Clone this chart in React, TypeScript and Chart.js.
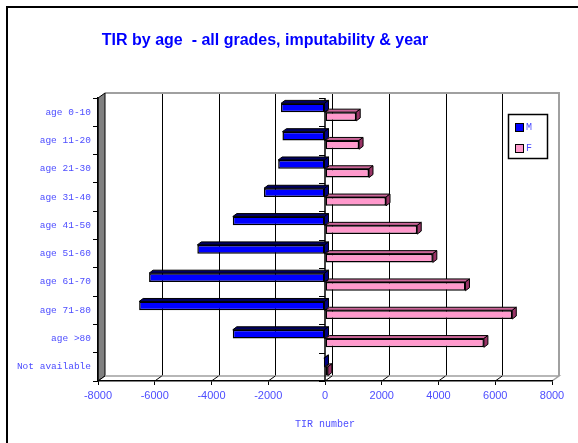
import React, { useEffect, useRef } from 'react';
import { Chart, registerables } from 'chart.js';

Chart.register(...registerables);

const categories = [
  'age 0-10',
  'age 11-20',
  'age 21-30',
  'age 31-40',
  'age 41-50',
  'age 51-60',
  'age 61-70',
  'age 71-80',
  'age >80',
  'Not available',
];
const maleValues = [-1550, -1500, -1650, -2150, -3250, -4500, -6200, -6550, -3250, -40];
const femaleValues = [1100, 1200, 1550, 2150, 3250, 3800, 4950, 6600, 5600, 100];
const seriesLabels = ['M', 'F'];
const xMin = -8000;
const xMax = 8000;
const xStep = 2000;
const chartTitle = 'TIR by age  - all grades, imputability & year';
const xAxisTitle = 'TIR number';

const TEXT_BLUE = '#4d4dff';
const DX = 7;
const DY = -5;
const BDX = 4;
const BDY = -3;

const faceColors = [
  { top: '#000060', side: '#000080' },
  { top: '#cc6699', side: '#993366' },
];

export default function App() {
  const ref = useRef<HTMLCanvasElement>(null);

  useEffect(() => {
    const canvas = ref.current;
    if (!canvas) return;

    const scenePlugin = {
      id: 'scene3d',
      beforeDraw(chart: any) {
        const { ctx, chartArea: a, scales } = chart;
        const xs = scales.x;
        ctx.save();
        ctx.fillStyle = '#ffffff';
        ctx.fillRect(0, 0, chart.width, chart.height);
        // outer frame
        ctx.strokeStyle = '#000';
        ctx.lineWidth = 2;
        ctx.beginPath();
        ctx.moveTo(7, chart.height + 5);
        ctx.lineTo(7, 7);
        ctx.lineTo(chart.width + 5, 7);
        ctx.stroke();

        // title
        ctx.fillStyle = '#0000ff';
        ctx.font = 'bold 16px "Liberation Sans", Arial, sans-serif';
        ctx.textAlign = 'center';
        ctx.textBaseline = 'middle';
        ctx.fillText(chartTitle, 265, 41);

        // back wall
        ctx.fillStyle = '#ffffff';
        ctx.fillRect(a.left + DX, a.top + DY, a.right - a.left, a.bottom - a.top);
        // gridlines on back wall
        ctx.strokeStyle = '#000';
        ctx.lineWidth = 1;
        const ticks = xs.ticks;
        ticks.forEach((t: any, i: number) => {
          if (i === 0 || i === ticks.length - 1) return;
          const px = Math.round(xs.getPixelForValue(t.value) + DX) + 0.5;
          ctx.beginPath();
          ctx.moveTo(px, a.top + DY);
          ctx.lineTo(px, a.bottom + DY);
          ctx.stroke();
        });
        // back wall border (top, right)
        ctx.strokeStyle = '#a0a0a0';
        ctx.lineWidth = 2;
        ctx.beginPath();
        ctx.moveTo(a.left + DX, a.top + DY);
        ctx.lineTo(a.right + DX, a.top + DY);
        ctx.lineTo(a.right + DX, a.bottom + DY);
        ctx.stroke();

        // left wall
        ctx.fillStyle = '#808080';
        ctx.beginPath();
        ctx.moveTo(a.left, a.top);
        ctx.lineTo(a.left + DX, a.top + DY);
        ctx.lineTo(a.left + DX, a.bottom + DY);
        ctx.lineTo(a.left, a.bottom);
        ctx.closePath();
        ctx.fill();
        ctx.strokeStyle = '#000';
        ctx.lineWidth = 1;
        ctx.stroke();

        // floor
        ctx.fillStyle = '#ffffff';
        ctx.beginPath();
        ctx.moveTo(a.left, a.bottom);
        ctx.lineTo(a.left + DX, a.bottom + DY);
        ctx.lineTo(a.right + DX, a.bottom + DY);
        ctx.lineTo(a.right, a.bottom);
        ctx.closePath();
        ctx.fill();
        ctx.strokeStyle = '#a0a0a0';
        ctx.lineWidth = 1.5;
        ctx.beginPath();
        ctx.moveTo(a.left + DX, a.bottom + DY);
        ctx.lineTo(a.right + DX, a.bottom + DY);
        ctx.lineTo(a.right, a.bottom);
        ctx.stroke();
        ctx.strokeStyle = '#000';
        ctx.lineWidth = 1;
        ticks.forEach((t: any, i: number) => {
          if (i === ticks.length - 1) return;
          const px = xs.getPixelForValue(t.value);
          ctx.beginPath();
          ctx.moveTo(px, a.bottom);
          ctx.lineTo(px + DX, a.bottom + DY);
          ctx.stroke();
        });
        ctx.restore();
      },
      beforeDatasetsDraw(chart: any) {
        const { ctx, chartArea: a, scales } = chart;
        const xs = scales.x;
        const n = chart.data.labels.length;
        ctx.save();
        // zero line (category axis crossing) with tick marks
        const zx = xs.getPixelForValue(0);
        ctx.strokeStyle = '#000';
        ctx.lineWidth = 1.5;
        ctx.beginPath();
        ctx.moveTo(zx, a.top);
        ctx.lineTo(zx, a.bottom);
        ctx.stroke();
        const band = (a.bottom - a.top) / n;
        ctx.lineWidth = 1;
        for (let i = 0; i <= n; i++) {
          const yy = Math.round(a.top + i * band) + 0.5;
          ctx.beginPath();
          ctx.moveTo(zx - 6, yy);
          ctx.lineTo(zx, yy);
          ctx.stroke();
        }
        // 3D faces of bars
        chart.data.datasets.forEach((ds: any, di: number) => {
          const meta = chart.getDatasetMeta(di);
          const fc = faceColors[di];
          meta.data.forEach((el: any) => {
            const p = el.getProps(['x', 'y', 'base', 'height'], true);
            const left = Math.min(p.x, p.base);
            const right = Math.max(p.x, p.base);
            const top = p.y - p.height / 2;
            const bottom = p.y + p.height / 2;
            ctx.lineWidth = 1;
            ctx.strokeStyle = '#000';
            ctx.fillStyle = fc.top;
            ctx.beginPath();
            ctx.moveTo(left, top);
            ctx.lineTo(left + BDX, top + BDY);
            ctx.lineTo(right + BDX, top + BDY);
            ctx.lineTo(right, top);
            ctx.closePath();
            ctx.fill();
            ctx.stroke();
            ctx.fillStyle = fc.side;
            ctx.beginPath();
            ctx.moveTo(right, top);
            ctx.lineTo(right + BDX, top + BDY);
            ctx.lineTo(right + BDX, bottom + BDY);
            ctx.lineTo(right, bottom);
            ctx.closePath();
            ctx.fill();
            ctx.stroke();
          });
        });
        ctx.restore();
      },
      afterDraw(chart: any) {
        const { ctx } = chart;
        ctx.save();
        // legend box
        ctx.fillStyle = '#ffffff';
        ctx.fillRect(508, 114, 39, 44);
        ctx.strokeStyle = '#000';
        ctx.lineWidth = 1.5;
        ctx.strokeRect(508.5, 114.5, 39, 44);
        ctx.font = '10px "Liberation Mono", "Courier New", monospace';
        ctx.textAlign = 'left';
        ctx.textBaseline = 'middle';
        chart.data.datasets.forEach((ds: any, i: number) => {
          const yy = 123 + i * 21;
          ctx.fillStyle = ds.backgroundColor;
          ctx.fillRect(515, yy, 8, 8);
          ctx.lineWidth = 1;
          ctx.strokeStyle = '#000';
          ctx.strokeRect(515.5, yy + 0.5, 8, 8);
          ctx.fillStyle = TEXT_BLUE;
          ctx.fillText(ds.label, 526, yy + 4);
        });
        ctx.restore();
      },
    };

    const chart = new Chart(canvas, {
      type: 'bar',
      data: {
        labels: categories,
        datasets: [
          {
            label: seriesLabels[0],
            data: maleValues,
            backgroundColor: '#0000ff',
            borderColor: '#000000',
            borderWidth: 1.5,
            borderSkipped: false,
            categoryPercentage: 0.62,
            barPercentage: 1,
          },
          {
            label: seriesLabels[1],
            data: femaleValues,
            backgroundColor: '#ff99cc',
            borderColor: '#000000',
            borderWidth: 1.5,
            borderSkipped: false,
            categoryPercentage: 0.62,
            barPercentage: 1,
          },
        ],
      },
      options: {
        indexAxis: 'y',
        responsive: false,
        maintainAspectRatio: false,
        animation: false,
        devicePixelRatio: 1,
        layout: { padding: { top: 98, right: 26, bottom: 0, left: 0 } },
        plugins: {
          legend: { display: false },
          title: { display: false },
          tooltip: { enabled: false },
        },
        scales: {
          x: {
            type: 'linear',
            min: xMin,
            max: xMax,
            ticks: {
              stepSize: xStep,
              color: TEXT_BLUE,
              font: { family: '"Liberation Sans", Arial, sans-serif', size: 11 },
              padding: 4,
              maxRotation: 0,
              callback: (v: any) => String(v),
            },
            grid: {
              drawOnChartArea: false,
              tickLength: 4,
              color: '#000',
              lineWidth: 1,
            },
            border: { display: true, color: '#000', width: 1.5 },
            title: {
              display: true,
              text: xAxisTitle,
              color: TEXT_BLUE,
              font: { family: '"Liberation Mono", "Courier New", monospace', size: 10 },
              padding: { top: 0, bottom: 13 },
            },
            afterFit(s: any) {
              s.height = 62;
            },
          },
          y: {
            type: 'category',
            offset: true,
            grid: {
              offset: true,
              drawOnChartArea: false,
              tickLength: 5,
              color: '#000',
              lineWidth: 1,
            },
            border: { display: true, color: '#000', width: 1.5 },
            ticks: {
              color: TEXT_BLUE,
              font: { family: '"Liberation Mono", "Courier New", monospace', size: 9.5 },
              padding: 2,
              autoSkip: false,
            },
            afterFit(s: any) {
              s.width = 98;
            },
          },
        },
      },
      plugins: [scenePlugin],
    } as any);

    return () => {
      chart.destroy();
    };
  }, []);

  return (
    <div
      style={{
        position: 'fixed',
        left: 0,
        top: 0,
        width: 578,
        height: 443,
        background: '#ffffff',
      }}
    >
      <canvas ref={ref} width={578} height={443} style={{ display: 'block' }} />
    </div>
  );
}
